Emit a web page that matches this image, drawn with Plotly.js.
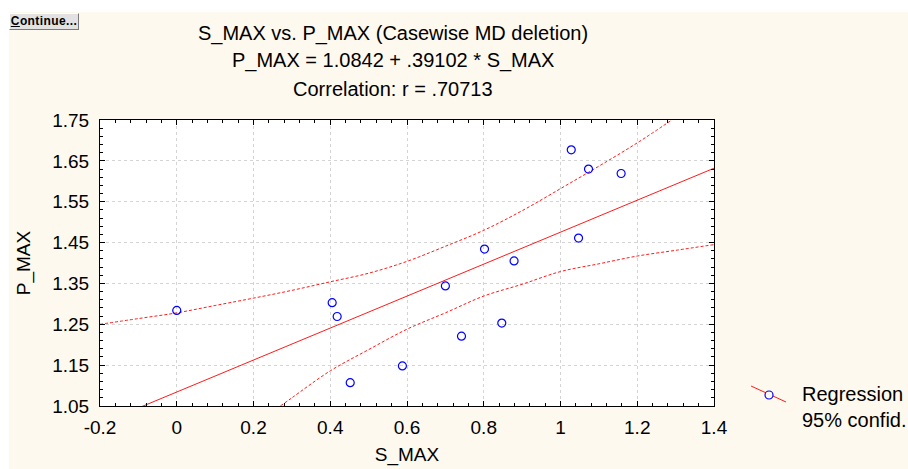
<!DOCTYPE html>
<html>
<head>
<meta charset="utf-8">
<script src="https://cdn.plot.ly/plotly-3.0.1.min.js"></script>
<style>
  html, body { margin: 0; padding: 0; background: #ffffff; width: 908px; height: 469px; overflow: hidden; }
  #chart { position: absolute; left: 9px; top: 12px; width: 899px; height: 457px; }
  #btn { position: absolute; left: 9px; top: 13px; width: 68px; height: 15px;
         background: #e2e2e2; border-top: 1px solid #ffffff; border-left: 1px solid #ffffff;
         border-right: 1px solid #7a7a7a; border-bottom: 1px solid #7a7a7a;
         font: bold 12px "Liberation Sans", Arial, sans-serif; letter-spacing: 0.4px; color: #000; line-height: 15px;
         text-align: center; z-index: 10; }
</style>
</head>
<body>
<div id="chart"></div>
<div id="btn"><u>C</u>ontinue...</div>
<script>
// Scatter data (S_MAX vs P_MAX)
const sMax = [0, 0.405, 0.418, 0.452, 0.588, 0.700, 0.742, 0.802, 0.847, 0.879, 1.028, 1.047, 1.073, 1.158];
const pMax = [1.284, 1.303, 1.269, 1.107, 1.148, 1.344, 1.221, 1.434, 1.253, 1.405, 1.677, 1.461, 1.630, 1.619];

// Regression line (P_MAX = 1.0842 + .39102 * S_MAX), endpoints at axis limits
const regX = [-0.2, 1.4];
const regY = [1.006, 1.632];

// 95% confidence band
const upperX = [-0.2, -0.1, 0, 0.1, 0.2, 0.3, 0.4, 0.5, 0.6, 0.7, 0.8, 0.9, 1.0, 1.1, 1.2, 1.29];
const upperY = [1.250, 1.264, 1.278, 1.296, 1.314, 1.333, 1.354, 1.375, 1.404, 1.441, 1.480, 1.528, 1.582, 1.637, 1.694, 1.750];
const lowerX = [0.27, 0.3, 0.4, 0.5, 0.6, 0.7, 0.8, 0.9, 1.0, 1.1, 1.2, 1.3, 1.4];
const lowerY = [1.05, 1.070, 1.136, 1.188, 1.238, 1.278, 1.319, 1.348, 1.379, 1.398, 1.417, 1.431, 1.445];

// Tick labels
const xTickVals = [-0.2, 0, 0.2, 0.4, 0.6, 0.8, 1.0, 1.2, 1.4];
const xTickText = ["-0.2", "0", "0.2", "0.4", "0.6", "0.8", "1", "1.2", "1.4"];
const yTickVals = [1.05, 1.15, 1.25, 1.35, 1.45, 1.55, 1.65, 1.75];
const yTickText = ["1.05", "1.15", "1.25", "1.35", "1.45", "1.55", "1.65", "1.75"];

const titleLines = ["S_MAX vs. P_MAX (Casewise MD deletion)", "P_MAX = 1.0842 + .39102 * S_MAX", "Correlation: r = .70713"];
const legendText = ["Regression", "95% confid."];

const FONT = '"Liberation Sans", Arial, sans-serif';
const CREAM = '#fef9ee';
const RED = '#ff1a1a';

const traces = [
  { x: upperX, y: upperY, type: 'scatter', mode: 'lines', line: { color: RED, width: 1, dash: '3px,2px', shape: 'spline' }, hoverinfo: 'skip', showlegend: false },
  { x: lowerX, y: lowerY, type: 'scatter', mode: 'lines', line: { color: RED, width: 1, dash: '3px,2px', shape: 'spline' }, hoverinfo: 'skip', showlegend: false },
  { x: regX, y: regY, type: 'scatter', mode: 'lines', line: { color: RED, width: 1 }, showlegend: false },
  { x: sMax, y: pMax, type: 'scatter', mode: 'markers', marker: { symbol: 'circle-open', size: 8, color: '#0000ff', line: { width: 1.2, color: '#0000ff' } }, showlegend: false, cliponaxis: false }
];

const axisCommon = {
  showline: true, linecolor: '#000', linewidth: 1, mirror: 'ticks',
  ticks: 'inside', ticklen: 5, tickcolor: '#000', tickwidth: 1,
  showgrid: true, gridcolor: '#d4d4d4', griddash: 'dot', gridwidth: 1,
  zeroline: false, tickmode: 'array',
  tickfont: { family: FONT, size: 19, color: '#000' }
};

const layout = {
  width: 899, height: 457,
  margin: { l: 91, r: 194, t: 108, b: 63 },
  paper_bgcolor: CREAM, plot_bgcolor: '#ffffff',
  showlegend: false,
  title: { text: titleLines[0], x: 0.4772, xref: 'paper', xanchor: 'center', y: 0.954, yref: 'container', yanchor: 'middle',
           font: { family: FONT, size: 20, color: '#000' } },
  xaxis: Object.assign({}, axisCommon, {
    range: [-0.2, 1.4], tickvals: xTickVals, ticktext: xTickText, ticklabelstandoff: 4,
    minor: { tickmode: 'linear', tick0: -0.2, dtick: 0.04, ticks: 'inside', ticklen: 3, tickcolor: '#000', showgrid: false },
    title: { text: 'S_MAX', font: { family: FONT, size: 19, color: '#000' }, standoff: 10 }
  }),
  yaxis: Object.assign({}, axisCommon, {
    range: [1.05, 1.75], tickvals: yTickVals, ticktext: yTickText, ticklabelstandoff: 6,
    minor: { tickmode: 'linear', tick0: 1.05, dtick: 0.02, ticks: 'inside', ticklen: 3, tickcolor: '#000', showgrid: false },
    title: { text: 'P_MAX', font: { family: FONT, size: 19, color: '#000' }, standoff: 16 }
  }),
  annotations: [
    { text: titleLines[1], xref: 'paper', yref: 'paper', x: 0.4772, y: 1.2063, xanchor: 'center', yanchor: 'middle', showarrow: false, font: { family: FONT, size: 20, color: '#000' } },
    { text: titleLines[2], xref: 'paper', yref: 'paper', x: 0.4772, y: 1.1084, xanchor: 'center', yanchor: 'middle', showarrow: false, font: { family: FONT, size: 20, color: '#000' } },
    { text: legendText.join('<br>'), xref: 'paper', yref: 'paper', x: 1.1401, y: -0.0035, xanchor: 'left', yanchor: 'middle', align: 'left', showarrow: false, font: { family: FONT, size: 20, color: '#000' } }
  ],
  shapes: [
    { type: 'line', xref: 'paper', yref: 'paper', x0: 1.0603, y0: 0.0699, x1: 1.1173, y1: 0.0140, line: { color: RED, width: 1 } },
    { type: 'circle', xref: 'paper', yref: 'paper', xsizemode: 'pixel', ysizemode: 'pixel', xanchor: 1.0896, yanchor: 0.0385,
      x0: -4, x1: 4, y0: -4, y1: 4, fillcolor: CREAM, line: { color: '#0000ff', width: 1.2 } }
  ]
};

Plotly.newPlot('chart', traces, layout, { displayModeBar: false, staticPlot: true });
</script>
</body>
</html>
